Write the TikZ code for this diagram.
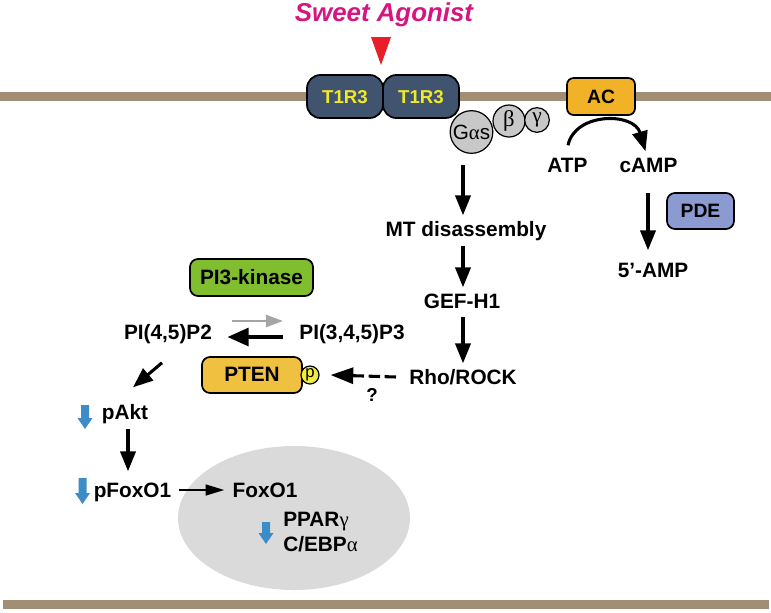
\documentclass[tikz,border=0pt]{standalone}
\usepackage{fontspec}
\setmainfont{Liberation Sans}
\newfontfamily\serifg{Liberation Serif}
\usetikzlibrary{arrows.meta,calc,shapes.geometric}
\definecolor{membrane}{RGB}{162,142,116}
\definecolor{agonist}{RGB}{214,22,128}
\definecolor{trired}{RGB}{232,30,40}
\definecolor{receptor}{RGB}{64,84,112}
\definecolor{rectext}{RGB}{240,232,40}
\definecolor{gprot}{RGB}{200,200,200}
\definecolor{acfill}{RGB}{242,178,40}
\definecolor{pdefill}{RGB}{140,154,210}
\definecolor{pikfill}{RGB}{128,190,48}
\definecolor{ptenfill}{RGB}{240,192,64}
\definecolor{pfill}{RGB}{240,238,60}
\definecolor{bluearr}{RGB}{60,140,200}
\definecolor{nucleus}{RGB}{218,218,218}
\definecolor{grayarr}{RGB}{165,165,165}
\begin{document}
\begin{tikzpicture}[x=0.75pt,y=-0.75pt,
  lbl/.style={font=\fontsize{15.6}{18}\selectfont\bfseries, text height=11.2pt, text depth=0pt, inner sep=0pt},
  boxlbl/.style={draw=black, line width=1.3pt, font=\fontsize{14.5}{17}\selectfont\bfseries, text height=10.4pt, text depth=0pt, inner sep=0pt},
  arr/.style={-{Triangle[length=15pt,width=11.5pt]}, line width=2.3pt},
  gcirc/.style={circle, draw=black, line width=0.9pt, fill=gprot, inner sep=0pt},
  pics/downarr/.style={code={
    \fill[bluearr] (-4,0) -- (4,0) -- (4,{#1-11}) -- (7.5,{#1-11}) -- (0,#1) -- (-7.5,{#1-11}) -- (-4,{#1-11}) -- cycle;}}
]
\useasboundingbox (0,0) rectangle (771,612);

% membranes
\draw[membrane, line width=6.75pt] (0,96.5) -- (771,96.5);
\draw[membrane, line width=6.75pt] (3,604) -- (769,604);

% nucleus
\node[ellipse, fill=nucleus, minimum width=174pt, minimum height=108pt, inner sep=0pt] (nuc) at (294,518) {};

% agonist
\node[font=\fontsize{19.4}{22}\selectfont\bfseries\itshape, text=agonist, text height=14pt, text depth=0pt, inner sep=0pt] (ag) at (384,12) {Sweet Agonist};
\fill[trired] (371,37) -- (391,37) -- (381,65) -- cycle;

% receptors
\node[boxlbl, fill=receptor, text=rectext, rounded corners=10pt, minimum width=57pt, minimum height=32.25pt, font=\fontsize{14}{16}\selectfont\bfseries] (r1) at (345,96.5) {T1R3};
\node[boxlbl, fill=receptor, text=rectext, rounded corners=10pt, minimum width=57pt, minimum height=32.25pt, font=\fontsize{14}{16}\selectfont\bfseries] (r2) at (421,96.5) {T1R3};

% G proteins
\node[gcirc, minimum size=32pt, font=\fontsize{15.5}{16}\selectfont] (gas) at (471.5,132) {G{\serifg α}s};
\node[gcirc, minimum size=24pt, font=\fontsize{17}{17}\selectfont] (gb) at (509,121) {\serifg β};
\node[gcirc, minimum size=18.5pt, font=\fontsize{16}{16}\selectfont] (gg) at (537,120) {\serifg γ};

% AC / PDE
\node[boxlbl, fill=acfill, rounded corners=5pt, minimum width=51pt, minimum height=27.75pt] (ac) at (601,96.5) {AC};
\node[boxlbl, fill=pdefill, rounded corners=6pt, minimum width=50.25pt, minimum height=27pt] (pde) at (700.5,211) {PDE};
\node[lbl] (atp) at (567.5,165) {ATP};
\node[lbl] (camp) at (648.5,165) {cAMP};
\node[lbl] (amp5) at (653,270) {5’-AMP};

% main column
\node[lbl] (mt) at (466,229) {MT disassembly};
\node[lbl] (gef) at (462,301) {GEF-H1};
\node[lbl] (rho) at (463,377) {Rho/ROCK};
\coordinate (col) at (463,0);

% PI3K branch
\node[boxlbl, fill=pikfill, rounded corners=6pt, minimum width=92.25pt, minimum height=27.75pt, font=\fontsize{15.6}{18}\selectfont\bfseries] (pik) at (251.5,277.5) {PI3-kinase};
\node[lbl] (pi45) at (168,332) {PI(4,5)P2};
\node[lbl] (pi345) at (352,332) {PI(3,4,5)P3};
\node[boxlbl, fill=ptenfill, rounded corners=6pt, minimum width=75pt, minimum height=27pt, font=\fontsize{15.6}{18}\selectfont\bfseries] (pten) at (252,375) {PTEN};
\node[circle, draw=black, line width=0.9pt, fill=pfill, minimum size=13.5pt, inner sep=0pt, font=\fontsize{12.5}{12}\selectfont] (pc) at (310,375) {p};
\node[font=\fontsize{14}{16}\selectfont\bfseries, text height=10pt, text depth=0pt, inner sep=0pt] (q) at (372,395) {?};

\node[lbl] (pakt) at (125,412) {pAkt};
\node[lbl] (pfox) at (132.5,490) {pFoxO1};
\node[lbl] (fox) at (265,490) {FoxO1};
\node[lbl, anchor=west] (ppar) at (283,519) {PPAR{\serifg\mdseries γ}};
\node[lbl, anchor=west] (cebp) at (283,544) {C/EBP{\serifg\mdseries α}};

% blue arrows
\pic at (85,405) {downarr=24};
\pic at (82.5,478) {downarr=26};
\pic at (266,522) {downarr=22};

% arrows
\draw[arr] ($(gas.south -| col)+(0,11)$) -- ($(mt.north -| col)+(0,-6)$);
\draw[arr] ($(mt.south -| col)+(0,9)$) -- ($(gef.north -| col)+(0,-6)$);
\draw[arr] ($(gef.south -| col)+(0,8)$) -- ($(rho.north -| col)+(0,-6)$);
\draw[arr] ($(camp.south)+(-0.5,20)$) -- ($(amp5.north -| camp)+(-0.5,-12)$);
\draw[arr] ($(atp.north)+(0.5,-12)$) .. controls (575,112) and (634,112) .. ($(camp.north)+(-3,-6)$);
\draw[arr, dash pattern=on 8.5pt off 3.5pt, line width=2.3pt, -{Triangle[length=17pt,width=12pt]}] ($(rho.west)+(-13,0)$) -- ($(pc.east)+(11,0)$);
\draw[-{Triangle[length=13pt,width=9pt]}, grayarr, line width=2.2pt] ($(pi45.east)+(20,-11)$) -- ($(pi345.west)+(-16,-11)$);
\draw[-{Triangle[length=16pt,width=13pt]}, line width=3.4pt] ($(pi345.west)+(-16,5)$) -- ($(pi45.east)+(15,5)$);
\draw[arr] ($(pi45.south)+(-6,23)$) -- ($(pakt.north)+(8,-17)$);
\draw[arr] ($(pakt.south)+(3,9)$) -- ($(pfox.north -| pakt.south)+(3,-11)$);
\draw[-{Triangle[length=14pt,width=8pt]}, line width=1.7pt] ($(pfox.east)+(8,0)$) -- ($(fox.west)+(-8,0)$);
\end{tikzpicture}
\end{document}
